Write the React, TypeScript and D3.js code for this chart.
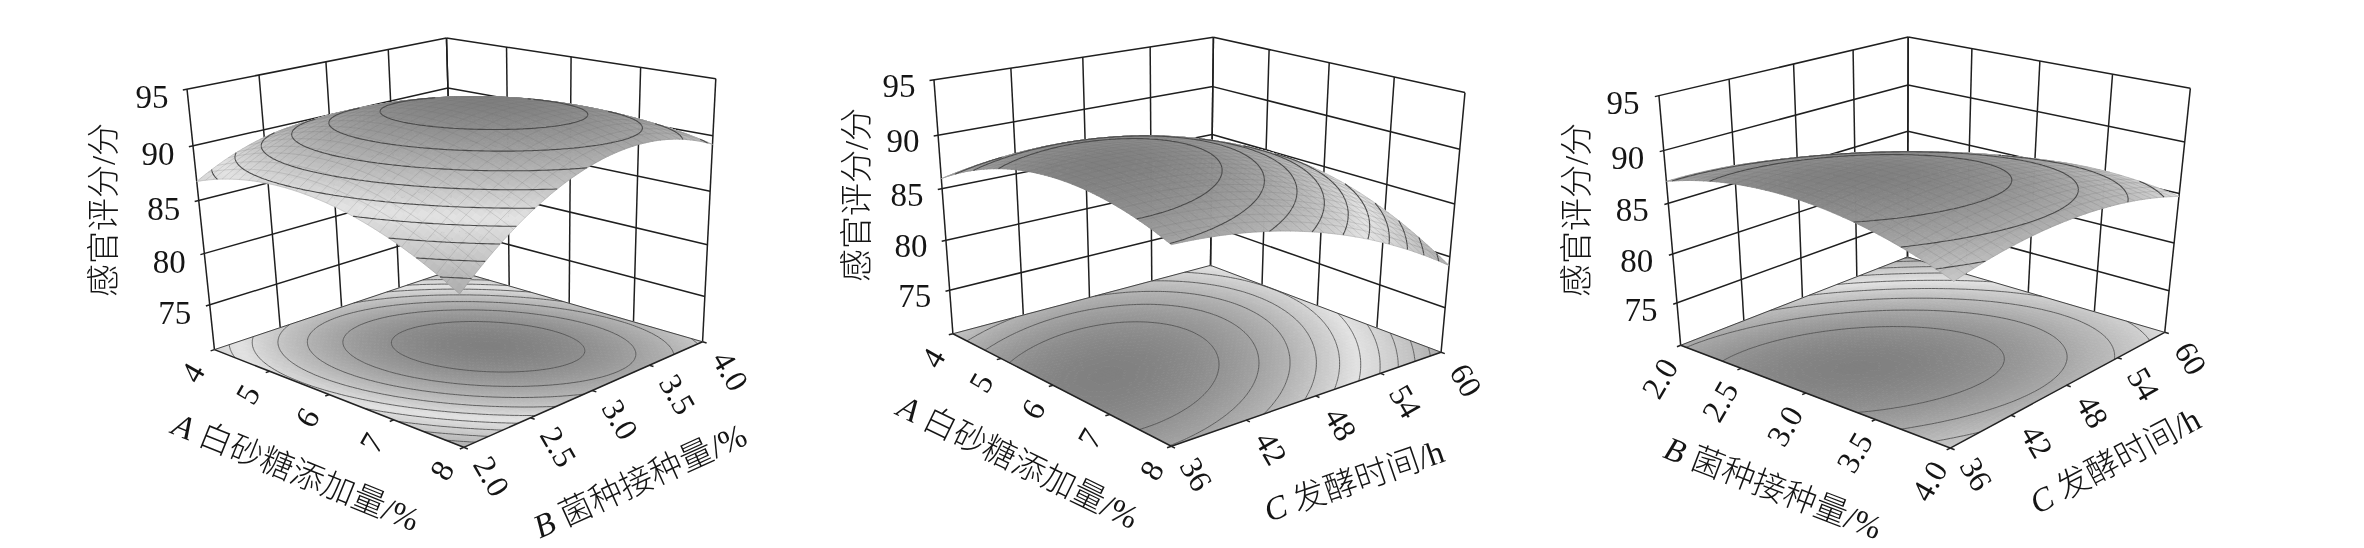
import React from 'react';
import * as d3 from 'd3';

type Pt = [number, number];
const A_TICKS = [4, 5, 6, 7, 8];
const B_TICKS = [2, 2.5, 3, 3.5, 4];
const C_TICKS = [36, 42, 48, 54, 60];
const Z_TICKS = [75, 80, 85, 90, 95];
const Z_FLOOR = 70.5;

// Sensory score read at the axis ticks: rows follow the first axis, columns the second.
const SURFACE_AB = [
  [86.76, 89.3, 89.69, 87.93, 84.02],
  [88.22, 91.28, 92.2, 90.96, 87.58],
  [88.17, 91.76, 93.2, 92.49, 89.63],
  [86.63, 90.74, 92.71, 92.52, 90.19],
  [83.58, 88.22, 90.71, 91.05, 89.24],
];
const SURFACE_AC = [
  [85.95, 86.96, 86.95, 85.91, 83.85],
  [88.6, 89.2, 88.78, 87.33, 84.85],
  [89.8, 89.99, 89.15, 87.29, 84.4],
  [89.55, 89.33, 88.08, 85.8, 82.5],
  [87.85, 87.21, 85.55, 82.86, 79.15],
];
const SURFACE_BC = [
  [87.1, 86.73, 85.5, 83.43, 80.5],
  [88.63, 88.6, 87.73, 86.0, 83.43],
  [88.9, 89.23, 88.7, 87.33, 85.1],
  [87.93, 88.6, 88.43, 87.4, 85.53],
  [85.7, 86.73, 86.9, 86.23, 84.7],
];

const LEVELS_AB = [92.5, 91.5, 90.5, 89.5, 88.5, 87.5, 86.5, 85.5, 84.5];
const LEVELS_AC = [88.9, 87.9, 86.9, 85.9, 84.9, 83.9, 82.9, 81.9, 80.9, 79.9];
const LEVELS_BC = [88.3, 87.3, 86.3, 85.3, 84.3, 83.3, 82.3, 81.3, 80.7];

interface Panel {
  surface: number[][];
  levels: number[];
  uTicks: number[]; vTicks: number[];
  uFmt: (d: number) => string; vFmt: (d: number) => string;
  uTitle: [string, string]; vTitle: [string, string];
  floor: { L: Pt; F: Pt; R: Pt; B: Pt };
  top: { L: Pt; B: Pt; R: Pt };
  zTickY: number[];
  uOff: Pt; vOff: Pt;
  zOff: Pt;
  zTitle: Pt;
  uTitlePos: Pt; uTitleAngle: number;
  vTitlePos: Pt; vTitleAngle: number;
  grays: [number, number, number];
  midFrac: number;
}

const f0 = (d: number) => String(d);
const f1 = (d: number) => d.toFixed(1);

const PANELS: Panel[] = [
  {
    surface: SURFACE_AB, levels: LEVELS_AB, uTicks: A_TICKS, vTicks: B_TICKS, uFmt: f0, vFmt: f1,
    uTitle: ['A', ' 白砂糖添加量/%'], vTitle: ['B', ' 菌种接种量/%'],
    floor: { L: [216, 350], F: [464, 449], R: [704, 340], B: [450, 272] },
    top: { L: [185.5, 90.7], B: [450, 37], R: [714, 79] },
    zTickY: [303, 251.7, 200, 146.7],
    uOff: [-22, 23], vOff: [28, 29], zOff: [-35, 8],
    zTitle: [104, 210],
    uTitlePos: [296, 472], uTitleAngle: 22, vTitlePos: [640, 481], vTitleAngle: -24.5,
    grays: [172, 226, 128], midFrac: 0.45,
  },
  {
    surface: SURFACE_AC, levels: LEVELS_AC, uTicks: A_TICKS, vTicks: C_TICKS, uFmt: f0, vFmt: f0,
    uTitle: ['A', ' 白砂糖添加量/%'], vTitle: ['C', ' 发酵时间/h'],
    floor: { L: [953, 335], F: [1171.5, 446.7], R: [1440.5, 351.7], B: [1211, 266] },
    top: { L: [934, 80.7], B: [1213, 37], R: [1465.5, 92.7] },
    zTickY: [289, 239, 187.7, 136],
    uOff: [-20, 24], vOff: [25, 28], zOff: [-35, 6],
    zTitle: [857, 195],
    uTitlePos: [1018, 462], uTitleAngle: 26, vTitlePos: [1354, 481], vTitleAngle: -19,
    grays: [172, 226, 128], midFrac: 0.45,
  },
  {
    surface: SURFACE_BC, levels: LEVELS_BC, uTicks: B_TICKS, vTicks: C_TICKS, uFmt: f1, vFmt: f0,
    uTitle: ['B', ' 菌种接种量/%'], vTitle: ['C', ' 发酵时间/h'],
    floor: { L: [1680.7, 346.7], F: [1950.7, 448], R: [2164, 332.7], B: [1908, 257] },
    top: { L: [1659, 97], B: [1908, 37], R: [2190.7, 88] },
    zTickY: [301.7, 253, 202.7, 150.7],
    uOff: [-21, 33], vOff: [26, 26], zOff: [-36, 7],
    zTitle: [1577, 210],
    uTitlePos: [1773, 488], uTitleAngle: 21, vTitlePos: [2115, 461], vTitleAngle: -28,
    grays: [172, 226, 128], midFrac: 0.45,
  },
];

const NODES = [0, 0.25, 0.5, 0.75, 1];
function basis(t: number) {
  return NODES.map((n, i) => {
    let v = 1;
    NODES.forEach((m, j) => { if (j !== i) v *= (t - m) / (n - m); });
    return v;
  });
}
// Resamples the tick-level table onto a fine drawing mesh.
function sampler(grid: number[][], n: number) {
  const bs = d3.range(n + 1).map(i => basis(i / n));
  return d3.range(n + 1).map(i => d3.range(n + 1).map(j => {
    let s = 0;
    for (let a = 0; a < 5; a++) for (let b = 0; b < 5; b++) s += bs[i][a] * bs[j][b] * grid[a][b];
    return s;
  }));
}

function solve(A: number[][], y: number[]) {
  const n = y.length;
  const M = A.map((r, i) => [...r, y[i]]);
  for (let c = 0; c < n; c++) {
    let piv = c;
    for (let r = c + 1; r < n; r++) if (Math.abs(M[r][c]) > Math.abs(M[piv][c])) piv = r;
    [M[c], M[piv]] = [M[piv], M[c]];
    for (let r = 0; r < n; r++) {
      if (r === c) continue;
      const k = M[r][c] / M[c][c];
      for (let e = c; e <= n; e++) M[r][e] -= k * M[c][e];
    }
  }
  return M.map((r, i) => r[n] / r[i]);
}

function fitProjection(pts: { X: number[]; p: Pt }[]) {
  const rows: number[][] = [], rhs: number[] = [];
  const ox = d3.mean(pts, d => d.p[0])!, oy = d3.mean(pts, d => d.p[1])!;
  const scl = 300;
  pts.forEach(({ X, p }) => {
    const x = (p[0] - ox) / scl, y = (p[1] - oy) / scl;
    rows.push([X[0], X[1], X[2], 1, 0, 0, 0, 0, -x * X[0], -x * X[1], -x * X[2]]); rhs.push(x);
    rows.push([0, 0, 0, 0, X[0], X[1], X[2], 1, -y * X[0], -y * X[1], -y * X[2]]); rhs.push(y);
  });
  const N = d3.range(11).map(i => d3.range(11).map(j => d3.sum(rows, r => r[i] * r[j])));
  const v = d3.range(11).map(i => d3.sum(rows, (r, k) => r[i] * rhs[k]));
  const m = solve(N, v);
  return (u: number, w: number, h: number): Pt => {
    const d = m[8] * u + m[9] * w + m[10] * h + 1;
    return [ox + scl * (m[0] * u + m[1] * w + m[2] * h + m[3]) / d, oy + scl * (m[4] * u + m[5] * w + m[6] * h + m[7]) / d];
  };
}

function marching(vals: number[][], n: number, levels: number[], proj: (u: number, v: number) => Pt, keep: (i: number, j: number) => boolean) {
  let d = '';
  const fmt = (p: Pt) => `${p[0].toFixed(1)},${p[1].toFixed(1)}`;
  for (const lv of levels) {
    for (let i = 0; i < n; i++) for (let j = 0; j < n; j++) {
      if (!keep(i, j)) continue;
      const c: [number, number, number][] = [[i, j, vals[i][j]], [i + 1, j, vals[i + 1][j]], [i + 1, j + 1, vals[i + 1][j + 1]], [i, j + 1, vals[i][j + 1]]];
      const pts: Pt[] = [];
      for (let k = 0; k < 4; k++) {
        const a = c[k], b = c[(k + 1) % 4];
        if ((a[2] - lv) * (b[2] - lv) < 0) {
          const t = (lv - a[2]) / (b[2] - a[2]);
          pts.push([a[0] + t * (b[0] - a[0]), a[1] + t * (b[1] - a[1])]);
        }
      }
      for (let k = 0; k + 1 < pts.length; k += 2) {
        d += `M${fmt(proj(pts[k][0] / n, pts[k][1] / n))}L${fmt(proj(pts[k + 1][0] / n, pts[k + 1][1] / n))}`;
      }
    }
  }
  return d;
}

const SERIF = '"Liberation Serif","Noto Sans CJK SC",serif';

function PanelView({ panel }: { panel: Panel }) {
  const { floor, top } = panel;
  const zScale = d3.scaleLinear().domain([Z_FLOOR, 95]).range([0, 1]);
  const pts: { X: number[]; p: Pt }[] = [
    { X: [0, 0, 0], p: floor.L }, { X: [1, 0, 0], p: floor.F }, { X: [1, 1, 0], p: floor.R }, { X: [0, 1, 0], p: floor.B },
    { X: [0, 0, 1], p: top.L }, { X: [0, 1, 1], p: top.B }, { X: [1, 1, 1], p: top.R },
  ];
  panel.zTickY.forEach((y, i) => {
    const h = zScale(Z_TICKS[i]);
    pts.push({ X: [0, 0, h], p: [floor.L[0] + (top.L[0] - floor.L[0]) * (floor.L[1] - y) / (floor.L[1] - top.L[1]), y] });
  });
  const P = fitProjection(pts);
  const uS = d3.scaleLinear().domain(d3.extent(panel.uTicks) as Pt).range([0, 1]);
  const vS = d3.scaleLinear().domain(d3.extent(panel.vTicks) as Pt).range([0, 1]);
  const line = d3.line();
  const seg = (a: Pt, b: Pt) => line([a, b])!;

  const N = 60, NL = 120;
  const fine = sampler(panel.surface, N);
  const fineL = sampler(panel.surface, NL);
  const flat = fine.flat();
  const lo = d3.min(flat)!, hi = d3.max(flat)!;
  const grayS = d3.scaleLinear().domain([lo, lo + panel.midFrac * (hi - lo), hi]).range(panel.grays).clamp(true);

  const surfP = (i: number, j: number): Pt => P(i / N, j / N, zScale(fine[i][j]));
  const surfL = (u: number, v: number): Pt => {
    const i = Math.min(NL - 1, Math.floor(u * NL)), j = Math.min(NL - 1, Math.floor(v * NL));
    const fu = u * NL - i, fv = v * NL - j;
    const z = d3.interpolateNumber(d3.interpolateNumber(fineL[i][j], fineL[i + 1][j])(fu), d3.interpolateNumber(fineL[i][j + 1], fineL[i + 1][j + 1])(fu))(fv);
    return P(u, v, zScale(z));
  };
  const area = (pp: Pt[]) => d3.polygonArea(pp);

  const floorSign = Math.sign(area([P(0, 0, 0), P(1, 0, 0), P(1, 1, 0), P(0, 1, 0)]));

  const floorBuckets = new Map<number, string>();
  const surfFront = new Map<number, string>();
  const surfBack = new Map<number, string>();
  const add = (m: Map<number, string>, g: number, q: Pt[]) => {
    m.set(g, (m.get(g) || '') + 'M' + q.map(p => `${p[0].toFixed(1)},${p[1].toFixed(1)}`).join('L') + 'Z');
  };
  for (let i = 0; i < N; i++) for (let j = 0; j < N; j++) {
    const g = Math.round(grayS((fine[i][j] + fine[i + 1][j] + fine[i][j + 1] + fine[i + 1][j + 1]) / 4));
    add(floorBuckets, g, [P(i / N, j / N, 0), P((i + 1) / N, j / N, 0), P((i + 1) / N, (j + 1) / N, 0), P(i / N, (j + 1) / N, 0)]);
    const q = [surfP(i, j), surfP(i + 1, j), surfP(i + 1, j + 1), surfP(i, j + 1)];
    const front = Math.sign(area(q)) === floorSign;
    add(front ? surfFront : surfBack, g, q);
  }
  const isFrontL = (i: number, j: number) => {
    const q = [i, i + 1, i + 1, i].map((a, k) => P(a / NL, [j, j, j + 1, j + 1][k] / NL, zScale(fineL[a][[j, j, j + 1, j + 1][k]]))) as Pt[];
    return Math.sign(area(q)) === floorSign;
  };
  const floorC = marching(fineL, NL, panel.levels, (u, v) => P(u, v, 0), () => true);
  const surfC = marching(fineL, NL, panel.levels, surfL, isFrontL);

  let mesh = '';
  const M = 26;
  const step = NL / M;
  for (let k = 0; k <= M; k++) {
    const ii = Math.round(k * step);
    for (let j = 0; j < NL; j++) {
      if (isFrontL(Math.min(ii, NL - 1), j)) {
        const a = P(ii / NL, j / NL, zScale(fineL[ii][j])), b = P(ii / NL, (j + 1) / NL, zScale(fineL[ii][j + 1]));
        mesh += `M${a[0].toFixed(1)},${a[1].toFixed(1)}L${b[0].toFixed(1)},${b[1].toFixed(1)}`;
      }
      if (isFrontL(j, Math.min(ii, NL - 1))) {
        const a = P(j / NL, ii / NL, zScale(fineL[j][ii])), b = P((j + 1) / NL, ii / NL, zScale(fineL[j + 1][ii]));
        mesh += `M${a[0].toFixed(1)},${a[1].toFixed(1)}L${b[0].toFixed(1)},${b[1].toFixed(1)}`;
      }
    }
  }

  const fillPaths = (m: Map<number, string>, pre: string) => [...m.entries()].map(([g, d]) => (
    <path key={pre + g} d={d} fill={`rgb(${g},${g},${g})`} stroke={`rgb(${g},${g},${g})`} strokeWidth={0.7} strokeLinejoin="round" />
  ));

  const wall = '#1f1f1f';
  const titleFs = 33;
  return (
    <g>
      <g stroke={wall} strokeWidth={1.5} fill="none">
        {panel.vTicks.map(t => <path key={'lw' + t} d={seg(P(0, vS(t), 0), P(0, vS(t), 1))} />)}
        {panel.uTicks.map(t => <path key={'rw' + t} d={seg(P(uS(t), 1, 0), P(uS(t), 1, 1))} />)}
        {Z_TICKS.map(z => <path key={'zl' + z} d={seg(P(0, -0.014, zScale(z)), P(0, 1, zScale(z)))} />)}
        {Z_TICKS.map(z => <path key={'zr' + z} d={seg(P(0, 1, zScale(z)), P(1, 1, zScale(z)))} />)}
      </g>
      {fillPaths(floorBuckets, 'f')}
      <path d={floorC} fill="none" stroke="#555" strokeWidth={0.9} />
      <g stroke="#444" strokeWidth={1} fill="none">
        <path d={seg(P(0, 0, 0), P(0, 1, 0))} />
        <path d={seg(P(0, 1, 0), P(1, 1, 0))} />
      </g>
      <g stroke="#222" strokeWidth={1.5} fill="none">
        <path d={seg(P(0, 0, 0), P(1, 0, 0))} />
        <path d={seg(P(1, 0, 0), P(1, 1, 0))} />
        {panel.uTicks.map(t => <path key={'ut' + t} d={seg(P(uS(t), 0, 0), P(uS(t), -0.014, 0))} />)}
        {panel.vTicks.map(t => <path key={'vt' + t} d={seg(P(1, vS(t), 0), P(1.014, vS(t), 0))} />)}
      </g>
      {fillPaths(surfBack, 'b')}
      {fillPaths(surfFront, 's')}
      <path d={mesh} fill="none" stroke="#6f6f6f" strokeOpacity={0.3} strokeWidth={0.7} />
      <path d={surfC} fill="none" stroke="#4a4a4a" strokeWidth={1.1} />
      <g fontFamily={SERIF} fill="#151515" textAnchor="middle" dominantBaseline="central" fontWeight={300}>
        {Z_TICKS.map(z => {
          const p = P(0, 0, zScale(z));
          return <text key={'zl' + z} x={p[0] + panel.zOff[0]} y={p[1] + panel.zOff[1]} fontSize={33}>{z}</text>;
        })}
        {panel.uTicks.map(t => {
          const p = P(uS(t), 0, 0);
          const x = p[0] + panel.uOff[0], y = p[1] + panel.uOff[1];
          return <text key={'u' + t} transform={`translate(${x},${y}) rotate(-60)`} fontSize={32}>{panel.uFmt(t)}</text>;
        })}
        {panel.vTicks.map(t => {
          const p = P(1, vS(t), 0);
          const x = p[0] + panel.vOff[0], y = p[1] + panel.vOff[1];
          return <text key={'v' + t} transform={`translate(${x},${y}) rotate(60)`} fontSize={32}>{panel.vFmt(t)}</text>;
        })}
        <text transform={`translate(${panel.zTitle[0]},${panel.zTitle[1]}) rotate(-90)`} fontSize={titleFs}>感官评分/分</text>
        <text transform={`translate(${panel.uTitlePos[0]},${panel.uTitlePos[1]}) rotate(${panel.uTitleAngle})`} fontSize={titleFs}>
          <tspan fontStyle="italic">{panel.uTitle[0]}</tspan>{panel.uTitle[1]}
        </text>
        <text transform={`translate(${panel.vTitlePos[0]},${panel.vTitlePos[1]}) rotate(${panel.vTitleAngle})`} fontSize={titleFs}>
          <tspan fontStyle="italic">{panel.vTitle[0]}</tspan>{panel.vTitle[1]}
        </text>
      </g>
    </g>
  );
}

export default function App() {
  return (
    <svg width={2364} height={548} viewBox="0 0 2364 548" style={{ position: 'absolute', left: 0, top: 0, background: '#fff' }}>
      <defs>
        <filter id="soft" x="0" y="0" width="100%" height="100%" filterUnits="objectBoundingBox" colorInterpolationFilters="sRGB">
          <feGaussianBlur stdDeviation="0.55" />
        </filter>
      </defs>
      <g filter="url(#soft)">
        <rect width={2364} height={548} fill="#fff" />
        {PANELS.map((p, i) => <PanelView key={i} panel={p} />)}
      </g>
    </svg>
  );
}
